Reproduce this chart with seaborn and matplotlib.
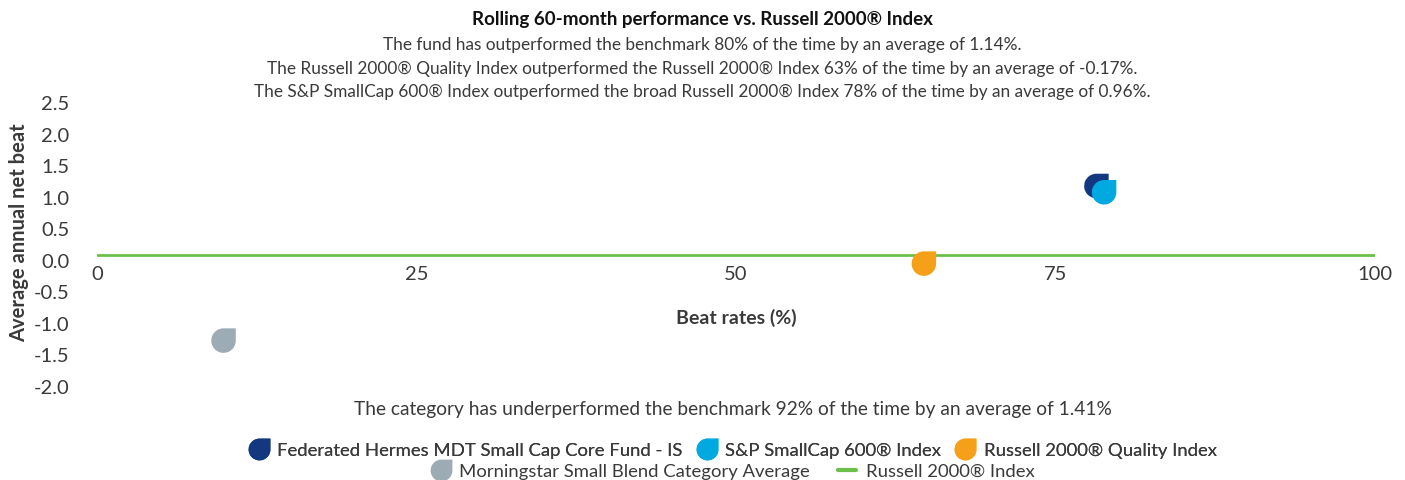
# ── Imports ──────────────────────────────────────────────────────────────────
import numpy as np
import pandas as pd
import matplotlib
matplotlib.use("Agg")
import matplotlib.pyplot as plt
import matplotlib.transforms as mtransforms
from matplotlib.path import Path
from matplotlib.lines import Line2D
import seaborn as sns

# ── Data ─────────────────────────────────────────────────────────────────────
SERIES     = ["Federated Hermes MDT Small Cap Core Fund - IS",
              "S&P SmallCap 600® Index",
              "Russell 2000® Quality Index",
              "Morningstar Small Blend Category Average"]
BEAT_RATE  = [78.2, 78.8, 64.7, 9.9]       # x, %
NET_BEAT   = [1.09, 0.99, -0.14, -1.36]    # y, average annual net beat
COLORS     = ["#14387f", "#00a9e0", "#f6a01a", "#9dabb5"]

BENCH_NAME = "Russell 2000® Index"
BENCH_X    = [0, 100]
BENCH_Y    = [0, 0]
BENCH_COL  = "#6cc04a"

X_TICKS = [0, 25, 50, 75, 100]
Y_TICKS = [2.5, 2.0, 1.5, 1.0, 0.5, 0.0, -0.5, -1.0, -1.5, -2.0]

TITLE    = "Rolling 60-month performance vs. Russell 2000® Index"
SUBTITLE = ["The fund has outperformed the benchmark 80% of the time by an average of 1.14%.",
            "The Russell 2000® Quality Index outperformed the Russell 2000® Index 63% of the time by an average of -0.17%.",
            "The S&P SmallCap 600® Index outperformed the broad Russell 2000® Index 78% of the time by an average of 0.96%."]
NOTE     = "The category has underperformed the benchmark 92% of the time by an average of 1.41%"

TEXT_COL = "#3a3a3a"

# ── Style ────────────────────────────────────────────────────────────────────
sns.set_theme(style="white")
plt.rcParams["font.family"] = ["Lato", "DejaVu Sans"]
plt.rcParams["text.color"] = TEXT_COL
plt.rcParams["axes.labelcolor"] = TEXT_COL
plt.rcParams["xtick.color"] = TEXT_COL
plt.rcParams["ytick.color"] = TEXT_COL

# teardrop marker: circle with a square top-right corner
arc = Path.arc(90, 360)
drop_path = Path(np.vstack([arc.vertices, [[1, 1], [0, 1]]]),
                 list(arc.codes) + [Path.LINETO, Path.CLOSEPOLY])

df = pd.DataFrame({"series": SERIES, "beat": BEAT_RATE, "net": NET_BEAT})

# ── Figure ───────────────────────────────────────────────────────────────────
fig = plt.figure(figsize=(14.05, 4.81), dpi=100)
ax = fig.add_axes([97 / 1405, 1 - 382 / 481, (1375 - 97) / 1405, (382 - 98) / 481])

sns.lineplot(x=BENCH_X, y=BENCH_Y, color=BENCH_COL, linewidth=2, ax=ax)
sns.scatterplot(data=df, x="beat", y="net", hue="series", hue_order=SERIES,
                palette=COLORS, marker=drop_path, s=18 ** 2, linewidth=0,
                legend=False, ax=ax, zorder=3)

for side in ["top", "right", "left", "bottom"]:
    ax.spines[side].set_visible(False)
ax.spines["bottom"].set_position(("data", 0))   # resets x ticks, so do it first

ax.set_xlim(0, 100)
ax.set_ylim(-2.0, 2.5)
ax.set_xticks(X_TICKS)
ax.set_xticklabels([str(t) for t in X_TICKS])
ax.set_yticks(Y_TICKS)
ax.set_yticklabels([f"{t:.1f}" for t in Y_TICKS])
ax.tick_params(axis="both", length=0, labelsize=14.5)
ax.tick_params(axis="y", pad=20)
ax.tick_params(axis="x", pad=7)

# y labels sit a touch below their tick in the reference
offset = mtransforms.ScaledTranslation(0, -5 / 100, fig.dpi_scale_trans)
for lab in ax.get_yticklabels():
    lab.set_transform(lab.get_transform() + offset)

ax.set_xlabel("Beat rates (%)", fontsize=14, fontweight="bold")
ax.xaxis.set_label_coords(0.5, 1 - (318 - 98) / (382 - 98))
ax.xaxis.label.set_va("center")
ax.set_ylabel("Average annual net beat", fontsize=14.5, fontweight="bold")
ax.yaxis.set_label_coords((19 - 97) / (1375 - 97), 1 - (233 - 98) / (382 - 98))
ax.yaxis.label.set_va("center")

# ── Titles and notes ─────────────────────────────────────────────────────────
fig.text(0.5, 1 - 19 / 481, TITLE, ha="center", va="center",
         fontsize=13.5, fontweight="bold", color="#111111")
for i, line in enumerate(SUBTITLE):
    fig.text(0.5, 1 - (45 + 23.5 * i) / 481, line, ha="center", va="center",
             fontsize=12.4, color=TEXT_COL)
fig.text(733 / 1405, 1 - 410 / 481, NOTE, ha="center", va="center",
         fontsize=13.8, color=TEXT_COL)

# ── Legend (two centred rows) ────────────────────────────────────────────────
handles = [Line2D([], [], linestyle="none", marker=drop_path, markersize=16,
                  markerfacecolor=c, markeredgewidth=0) for c in COLORS]
bench_handle = Line2D([], [], color=BENCH_COL, linewidth=3)

leg1 = fig.legend(handles[:3], SERIES[:3], loc="center",
                  bbox_to_anchor=(733 / 1405, 1 - 451 / 481), ncol=3,
                  frameon=False, fontsize=13.3, handlelength=1.0,
                  handletextpad=0.5, columnspacing=0.8)
fig.legend([handles[3], bench_handle], [SERIES[3], BENCH_NAME], loc="center",
           bbox_to_anchor=(733 / 1405, 1 - 472 / 481), ncol=2,
           frameon=False, fontsize=13.3, handlelength=1.0,
           handletextpad=0.5, columnspacing=1.5)
fig.add_artist(leg1)

fig.savefig("out.png", dpi=100)
plt.close(fig)
